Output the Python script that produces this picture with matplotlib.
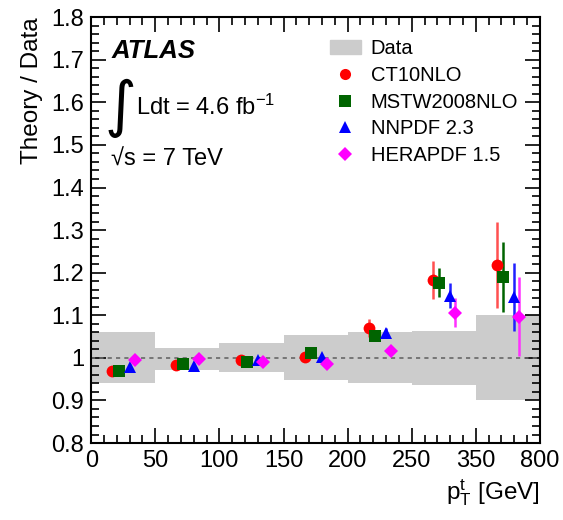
import numpy as np
import matplotlib
matplotlib.use("Agg")
import matplotlib.pyplot as plt
from matplotlib.patches import Patch
from matplotlib.lines import Line2D

plt.rcParams['font.family'] = ['Liberation Sans', 'DejaVu Sans']
plt.rcParams['mathtext.fontset'] = 'custom'
plt.rcParams['mathtext.rm'] = 'Liberation Sans'
plt.rcParams['mathtext.it'] = 'Liberation Sans:italic'

# pT bin edges (GeV), drawn as equal-width bins
edges = ["0", "50", "100", "150", "200", "250", "350", "800"]

# data uncertainty band (relative), per bin
data_up = [0.060, 0.024, 0.034, 0.053, 0.060, 0.064, 0.100]
data_dn = [0.060, 0.028, 0.034, 0.053, 0.060, 0.064, 0.100]

# theory / data ratios
ct10 = [0.968, 0.983, 0.995, 1.001, 1.070, 1.183, 1.218]
ct10_err = [0.005, 0.005, 0.006, 0.008, 0.022, 0.045, 0.100]
mstw = [0.968, 0.985, 0.991, 1.012, 1.052, 1.176, 1.190]
mstw_err = [0.004, 0.004, 0.005, 0.006, 0.012, 0.034, 0.083]
nnpdf = [0.979, 0.980, 0.996, 1.001, 1.059, 1.146, 1.143]
nnpdf_err = [0.004, 0.004, 0.005, 0.006, 0.010, 0.030, 0.080]
hera = [0.996, 0.998, 0.991, 0.985, 1.017, 1.106, 1.097]
hera_err = [0.004, 0.004, 0.005, 0.006, 0.010, 0.034, 0.093]

series = [
    ("CT10NLO", ct10, ct10_err, "o", "#ff0000", "#ff5050", 0.33),
    ("MSTW2008NLO", mstw, mstw_err, "s", "#006400", "#006400", 0.43),
    ("NNPDF 2.3", nnpdf, nnpdf_err, "^", "#0000ff", "#2020ff", 0.60),
    ("HERAPDF 1.5", hera, hera_err, "D", "#ff00ff", "#ff30ff", 0.68),
]

fig = plt.figure(figsize=(5.63, 5.2), dpi=100)
ax = fig.add_axes([0.162, 0.148, 0.797, 0.819])

nb = len(data_up)
for i in range(nb):
    ax.fill_between([i, i + 1], 1 - data_dn[i], 1 + data_up[i],
                    color="#cccccc", lw=0, zorder=1)
ax.axhline(1.0, color="#666666", ls=(0, (2.5, 2.5)), lw=1.2, zorder=2)

for name, vals, errs, mk, col, ecol, off in series:
    x = np.arange(nb) + off
    ms = 8.5 if mk != "D" else 7.5
    ax.errorbar(x, vals, yerr=errs, fmt=mk, color=col, ecolor=ecol, ms=ms,
                mew=0, elinewidth=1.8, capsize=0, zorder=3)

ax.set_xlim(0, nb)
ax.set_ylim(0.8, 1.8)
ax.set_xticks(np.arange(nb + 1))
ax.set_xticklabels(edges)
ax.set_xticks(np.arange(0, nb, 0.2), minor=True)
ax.set_yticks(np.arange(0.8, 1.81, 0.1))
ax.set_yticklabels(["0.8", "0.9", "1", "1.1", "1.2", "1.3", "1.4",
                    "1.5", "1.6", "1.7", "1.8"])
ax.set_yticks(np.arange(0.8, 1.8, 0.02), minor=True)
ax.tick_params(which="both", direction="in", top=True, right=True,
               labelsize=17, width=1.2)
ax.tick_params(which="major", length=11, pad=5)
ax.tick_params(which="minor", length=6)
for s in ax.spines.values():
    s.set_linewidth(1.5)

ax.set_ylabel("Theory / Data", fontsize=17.5, loc="top", labelpad=6)
ax.set_xlabel(r"p$_\mathregular{T}^\mathregular{t}$ [GeV]", fontsize=17.5,
              loc="right", labelpad=4)

ax.text(0.045, 0.92, "ATLAS", transform=ax.transAxes, fontsize=18.5,
        fontweight="bold", fontstyle="italic", va="center")
ax.text(0.03, 0.785, "\u222b", transform=ax.transAxes, fontsize=44,
        va="center", family=["DejaVu Sans"])
ax.text(0.10, 0.788, r"Ldt = 4.6 fb$^{\mathregular{-1}}$", transform=ax.transAxes,
        fontsize=17, va="center")
ax.text(0.045, 0.665, "\u221as = 7 TeV", transform=ax.transAxes, fontsize=17,
        va="center")

handles = [Patch(color="#cccccc", label="Data")]
for name, vals, errs, mk, col, ecol, off in series:
    handles.append(Line2D([], [], ls="none", marker=mk, color=col,
                          ms=8 if mk != "D" else 7, mew=0, label=name))
ax.legend(handles=handles, loc="upper left", bbox_to_anchor=(0.515, 0.967),
          frameon=False, fontsize=14.5, handlelength=1.5, handletextpad=0.5,
          labelspacing=0.38, borderaxespad=0)

fig.savefig("out.png", dpi=100)
